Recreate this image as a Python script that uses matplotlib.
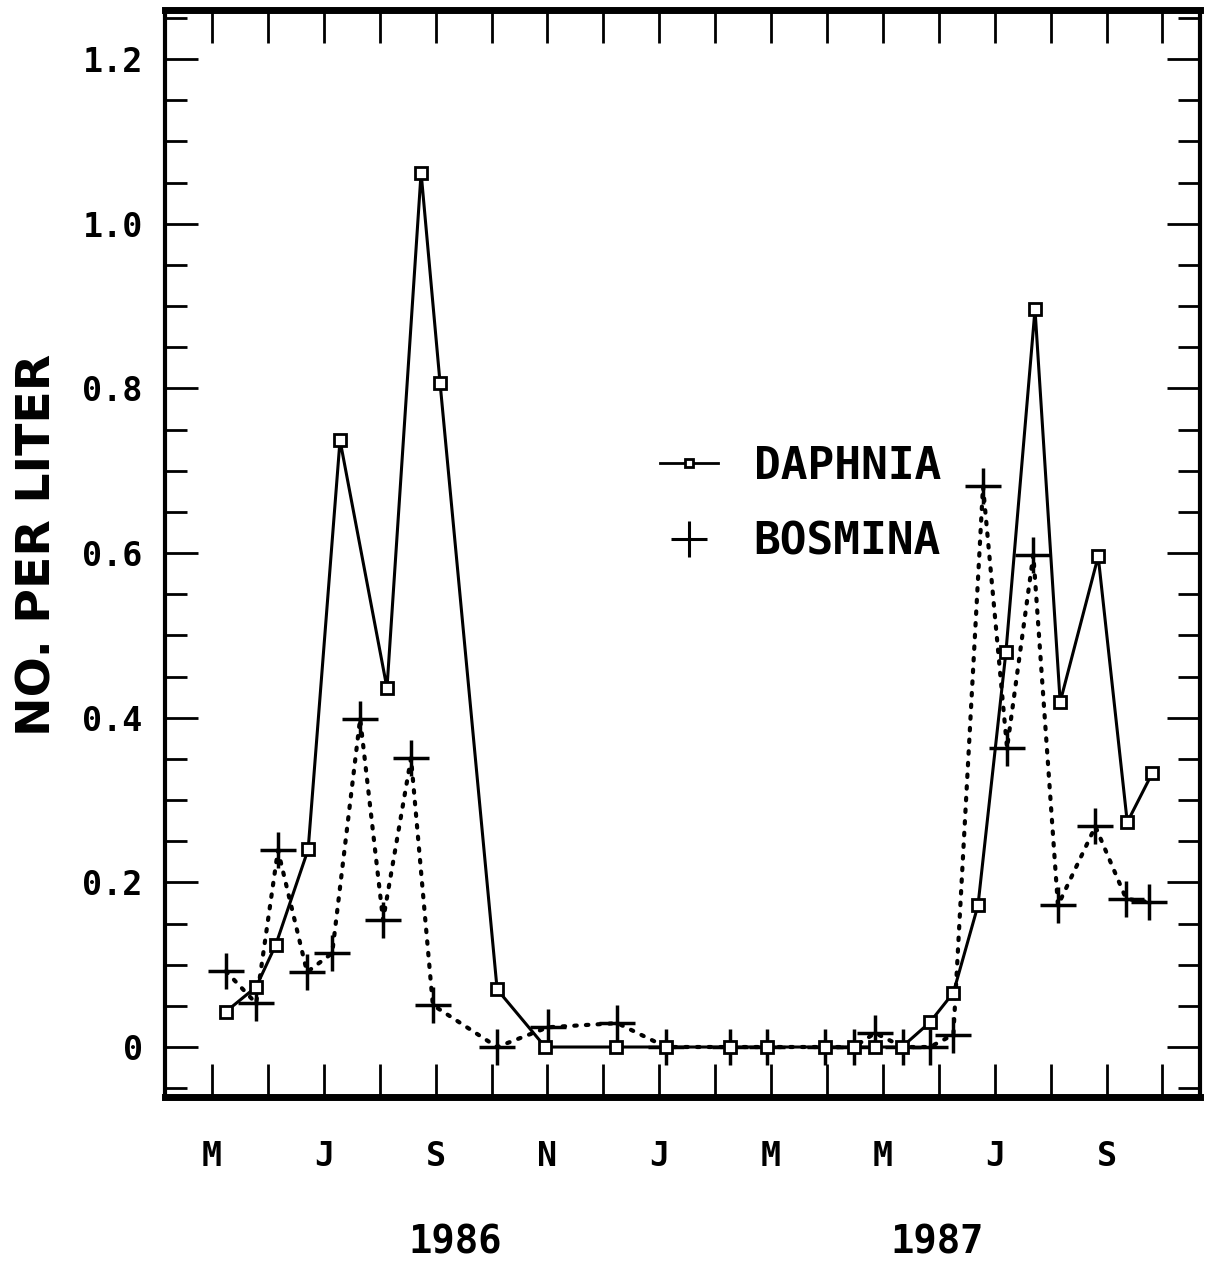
import matplotlib
matplotlib.use("Agg")
import matplotlib.pyplot as plt
import numpy as np
from matplotlib.lines import Line2D
from matplotlib.ticker import MultipleLocator

# months counted from Jan 1986 (0 = Jan 1986, 12 = Jan 1987)
daphnia_month = [4.25, 4.79, 5.14, 5.72, 6.29, 7.13, 7.74, 8.08, 9.10, 9.96,
                 11.23, 12.12, 13.27, 13.93, 14.97, 15.48, 15.86, 16.34, 16.84,
                 17.26, 17.70, 18.20, 18.72, 19.17, 19.85, 20.37, 20.82]
daphnia_value = [0.043, 0.073, 0.124, 0.24, 0.737, 0.436, 1.062, 0.806, 0.070, 0.0,
                 0.0, 0.0, 0.0, 0.0, 0.0, 0.0, 0.0, 0.0, 0.03,
                 0.066, 0.172, 0.48, 0.896, 0.419, 0.596, 0.273, 0.333]

bosmina_month = [4.25, 4.79, 5.18, 5.70, 6.15, 6.65, 7.06, 7.56, 7.95, 9.10,
                 10.01, 11.25, 12.12, 13.27, 13.93, 14.97, 15.48, 15.86, 16.36,
                 16.84, 17.26, 17.79, 18.22, 18.69, 19.13, 19.80, 20.35, 20.76]
bosmina_value = [0.092, 0.053, 0.239, 0.091, 0.114, 0.399, 0.154, 0.351, 0.051, 0.0,
                 0.024, 0.029, 0.0, 0.0, 0.0, 0.0, 0.0, 0.017, 0.0,
                 0.0, 0.015, 0.681, 0.363, 0.598, 0.172, 0.268, 0.18, 0.176]

month_ticks = [4, 6, 8, 10, 12, 14, 16, 18, 20]
month_labels = ["M", "J", "S", "N", "J", "M", "M", "J", "S"]
year_labels = ["1986", "1987"]
year_pos = [8.35, 16.97]
y_ticks = [0, 0.2, 0.4, 0.6, 0.8, 1.0, 1.2]
y_labels = ["0", "0.2", "0.4", "0.6", "0.8", "1.0", "1.2"]

mono = "DejaVu Sans Mono"

fig = plt.figure(figsize=(12.16, 12.66), dpi=100)
ax = fig.add_axes([0.1357, 0.1335, 0.8511, 0.8586])

ax.plot(daphnia_month, daphnia_value, color="black", lw=2.2, ls="-",
        marker="s", markersize=8, markerfacecolor="white",
        markeredgecolor="black", markeredgewidth=2, zorder=3)
ax.plot(bosmina_month, bosmina_value, color="black", lw=3, ls=(0, (0.6, 2.2)),
        dash_capstyle="round", marker="+", markersize=26,
        markeredgewidth=2.5, zorder=2)

ax.set_xlim(3.16, 21.67)
ax.set_ylim(-0.0607, 1.2596)

ax.set_xticks(month_ticks)
ax.set_xticklabels(month_labels, fontfamily=mono, fontweight="bold", fontsize=24)
ax.xaxis.set_minor_locator(MultipleLocator(1))
ax.set_yticks(y_ticks)
ax.set_yticklabels(y_labels, fontfamily=mono, fontweight="bold", fontsize=24)
ax.yaxis.set_minor_locator(MultipleLocator(0.05))

ax.tick_params(axis="both", which="both", direction="in", top=True, right=True,
               width=2, color="black")
ax.tick_params(axis="y", which="major", length=24, pad=16)
ax.tick_params(axis="y", which="minor", length=16)
ax.tick_params(axis="x", which="both", length=24)
ax.tick_params(axis="x", which="major", pad=31)

for side, w in [("bottom", 5), ("top", 5), ("left", 3), ("right", 3)]:
    ax.spines[side].set_linewidth(w)

ax.set_ylabel("NO. PER LITER", fontsize=34, fontweight="bold")
ax.yaxis.set_label_coords(-0.101, 0.508)

for lab, pos in zip(year_labels, year_pos):
    ax.text(pos, -0.134, lab, transform=ax.get_xaxis_transform(),
            ha="center", va="center", fontfamily=mono, fontweight="bold",
            fontsize=28)

handles = [
    Line2D([], [], color="black", lw=2, marker="s", markersize=6,
           markerfacecolor="white", markeredgewidth=2),
    Line2D([], [], color="black", lw=0, marker="+", markersize=26,
           markeredgewidth=2.2),
]
ax.legend(handles, ["DAPHNIA", "BOSMINA"], loc="upper left",
          bbox_to_anchor=(0.44, 0.637), frameon=False, handlelength=1.3,
          handletextpad=0.8, labelspacing=0.75,
          prop={"family": mono, "weight": "bold", "size": 32})

fig.savefig("out.png", dpi=100, facecolor="white")
